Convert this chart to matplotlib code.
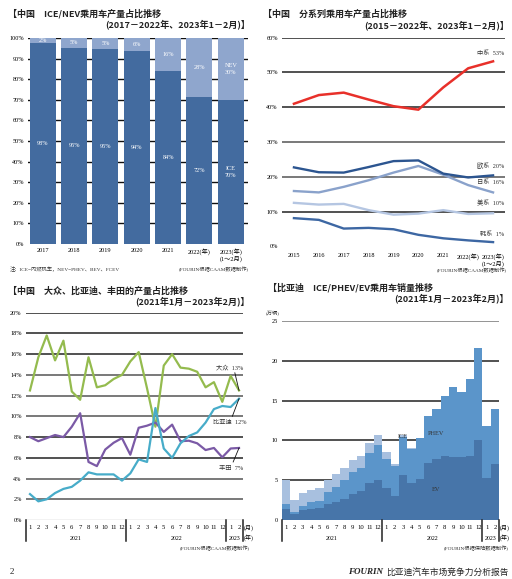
import numpy as np
import matplotlib
matplotlib.use('Agg')
import matplotlib.pyplot as plt

W, H = 512, 579
SANS = ['Noto Sans CJK SC', 'DejaVu Sans']
SERIF = ['Liberation Serif', 'Noto Sans CJK SC']

# ---- panel 1: ICE/NEV share
share_years = ['2017', '2018', '2019', '2020', '2021', '2022(年)', '2023(年)\n(1～2月)']
ice_share = [97.5, 95.3, 94.6, 93.7, 84.0, 71.6, 70.0]
nev_share = [2.5, 4.7, 5.4, 6.3, 16.0, 28.4, 30.0]
ice_lbl = ['98%', '95%', '95%', '94%', '84%', '72%', 'ICE\n70%']
nev_lbl = ['2%', '5%', '5%', '6%', '16%', '28%', 'NEV\n30%']

# ---- panel 2: share by origin
origin_years = ['2015', '2016', '2017', '2018', '2019', '2020', '2021', '2022(年)', '2023(年)\n(1～2月)']
chinese = [41.0, 43.5, 44.2, 42.2, 40.3, 39.3, 45.7, 51.2, 53.2]
european = [22.7, 21.3, 21.2, 22.8, 24.5, 24.7, 20.9, 19.8, 20.4]
japanese = [15.9, 15.5, 17.1, 19.0, 21.2, 23.1, 20.6, 17.6, 15.5]
american = [12.5, 12.0, 12.2, 10.4, 9.1, 9.4, 10.4, 9.3, 9.5]
korean = [8.1, 7.6, 5.1, 5.3, 4.9, 3.3, 2.3, 1.7, 1.2]

# ---- panel 3: VW / BYD / Toyota monthly share
months = [str(m) for m in list(range(1, 13)) * 2 + [1, 2]]
years = ['2021', '2022', '2023']
vw = [12.5, 15.7, 17.8, 15.4, 17.3, 12.4, 11.6, 15.7, 12.8, 13.0, 13.6, 14.0,
      15.3, 16.2, 12.7, 9.0, 14.9, 16.0, 14.7, 14.6, 14.3, 12.8, 13.3, 11.4, 13.9, 12.5]
byd = [2.5, 1.8, 2.0, 2.6, 3.0, 3.2, 3.8, 4.6, 4.4, 4.4, 4.4, 3.8,
       4.5, 5.85, 5.6, 10.8, 6.9, 6.0, 7.4, 8.1, 8.45, 9.4, 10.7, 11.0, 10.9, 11.7]
toyota = [8.0, 7.6, 7.9, 8.2, 8.0, 9.0, 10.3, 5.6, 5.2, 6.8, 7.45, 7.9,
          6.3, 8.9, 9.1, 9.4, 8.5, 9.2, 7.6, 7.65, 7.4, 6.75, 6.95, 6.05, 6.9, 6.95]

# ---- panel 4: BYD sales by powertrain (10k units)
ev = [1.4, 0.75, 1.3, 1.35, 1.47, 2.06, 2.23, 2.6, 3.24, 3.6, 4.7, 5.04,
      4.0, 3.03, 5.7, 4.6, 5.1, 7.1, 7.65, 8.1, 7.9, 7.94, 8.1, 10.0, 5.25, 7.05]
phev = [0.6, 0.2, 0.5, 0.85, 0.97, 1.47, 1.93, 2.44, 2.77, 2.9, 3.7, 4.4,
        3.7, 3.7, 4.7, 4.35, 5.15, 5.95, 6.25, 7.5, 8.8, 8.1, 9.6, 11.6, 6.6, 6.95]
ice = [3.05, 1.55, 1.55, 1.55, 1.6, 1.5, 1.6, 1.43, 1.55, 1.56, 1.3, 1.3,
       0.9, 0.28, 0.3, 0.1, 0.05, 0, 0, 0, 0, 0, 0, 0, 0, 0]


def rect(l, t, r, b):
    return [l / W, 1 - b / H, (r - l) / W, (b - t) / H]


def ftext(fig, x, y, s, **kw):
    kw.setdefault('va', 'center')
    fig.text(x / W, 1 - y / H, s, **kw)


def clean(ax):
    for s in ax.spines.values():
        s.set_visible(False)
    ax.tick_params(length=0, labelsize=4.5, pad=3)
    for t in ax.get_yticklabels() + ax.get_xticklabels():
        t.set_family(SERIF)


def month_axis(ax, hpx):
    n = len(months)
    ax.set_xlim(-0.5, n - 0.5)
    ax.set_xticks([])
    tr = ax.get_xaxis_transform()
    d = -20.7 / hpx
    for xv in [-0.5, 11.5, 23.5, n - 0.5]:
        ax.plot([xv, xv], [0, d], color='#222', lw=1.1, transform=tr, clip_on=False)
    for i, m in enumerate(months):
        ax.text(i, -7.7 / hpx, m, transform=tr, ha='center', va='center',
                fontsize=4.8, family=SERIF)
    for xc, y in zip([5.5, 17.5, 24.5], years):
        ax.text(xc, -18 / hpx, y, transform=tr, ha='center', va='center',
                fontsize=4.3, family=SERIF)
    ax.text(n - 0.45, -7.7 / hpx, '(月)', transform=tr, ha='left', va='center',
            fontsize=4.3, family=SERIF)
    ax.text(n - 0.45, -18 / hpx, '(年)', transform=tr, ha='left', va='center',
            fontsize=4.3, family=SERIF)


fig = plt.figure(figsize=(W / 100, H / 100), dpi=100)

# ================= panel 1
ax1 = fig.add_axes(rect(28, 38, 248, 244))
x = np.arange(len(share_years))
for yv in range(10, 101, 10):
    ax1.axhline(yv, color='#111', lw=1.0, zorder=0)
ax1.bar(x, ice_share, width=0.83, color='#436b9f', zorder=2)
ax1.bar(x, nev_share, bottom=ice_share, width=0.83, color='#8fa6cd', zorder=2)
for i in x:
    ax1.text(i, ice_share[i] / 2, ice_lbl[i], ha='center', va='center', color='white',
             fontsize=4.5, family=SERIF, zorder=3, linespacing=1.6)
    ax1.text(i, ice_share[i] + nev_share[i] / 2, nev_lbl[i], ha='center', va='center',
             color='white', fontsize=4.5, family=SERIF, zorder=3, linespacing=1.6)
ax1.set_xlim(-0.47, 6.55)
ax1.set_ylim(0, 100)
ax1.set_yticks(range(0, 101, 10))
ax1.set_yticklabels([f'{v}%' for v in range(0, 101, 10)])
ax1.set_xticks(x)
ax1.set_xticklabels(share_years)
clean(ax1)

# ================= panel 2
ax2 = fig.add_axes(rect(282, 37.7, 505, 246.3))
x2 = np.arange(len(origin_years))
for yv in range(10, 61, 10):
    ax2.axhline(yv, color='#222' if yv not in (20, 30) else '#555', lw=1.1, zorder=0)
ax2.plot(x2, korean, color='#3d67a3', lw=1.7)
ax2.plot(x2, american, color='#b5c6e2', lw=1.7)
ax2.plot(x2, japanese, color='#8aa2cb', lw=1.7)
ax2.plot(x2, european, color='#2c5590', lw=1.7)
ax2.plot(x2, chinese, color='#e8302a', lw=1.8)
lbls2 = [('中系  53%', 55.5), ('欧系  20%', 23.1), ('日系  16%', 18.3),
         ('美系  10%', 12.25), ('韩系  1%', 3.45)]
for s, yv in lbls2:
    ax2.text(8.45, yv, s, ha='right', va='center', fontsize=4.5, family=SERIF, color='#333')
ax2.set_xlim(-0.48, 8.48)
ax2.set_ylim(0, 60)
ax2.set_yticks(range(0, 61, 10))
ax2.set_yticklabels([f'{v}%' for v in range(0, 61, 10)])
ax2.set_xticks(x2)
ax2.set_xticklabels(origin_years)
clean(ax2)
ax2.tick_params(axis='x', pad=5)

# ================= panel 3
ax3 = fig.add_axes(rect(25.8, 312.7, 243.2, 520))
x3 = np.arange(len(months))
for yv in range(2, 21, 2):
    ax3.axhline(yv, color='#222' if yv in (20, 18, 16, 8, 6) else '#555', lw=1.1, zorder=0)
ax3.axhline(0, color='#222', lw=0.8, zorder=0)
ax3.plot(x3, vw, color='#94bb4e', lw=1.6)
ax3.plot(x3, toyota, color='#7b5aa6', lw=1.6)
ax3.plot(x3, byd, color='#47acc9', lw=1.6)
ax3.plot([24.5, 25], [14.2, vw[-1]], color='#111', lw=0.6)
ax3.plot([24.2, 25], [10.0, byd[-1]], color='#111', lw=0.6)
ax3.plot([24.3, 25], [5.6, toyota[-1]], color='#111', lw=0.6)
ax3.text(23.9, 14.75, '大众  13%', ha='center', va='center', fontsize=4.5, family=SERIF, color='#333')
ax3.text(23.9, 9.45, '比亚迪  12%', ha='center', va='center', fontsize=4.5, family=SERIF, color='#333')
ax3.text(24.1, 4.95, '丰田  7%', ha='center', va='center', fontsize=4.5, family=SERIF, color='#333')
ax3.set_ylim(0, 20)
ax3.set_yticks(range(0, 21, 2))
ax3.set_yticklabels([f'{v}%' for v in range(0, 21, 2)])
clean(ax3)
month_axis(ax3, 207.3)

# ================= panel 4
ax4 = fig.add_axes(rect(281.8, 321, 499.2, 520))
x4 = np.arange(len(months))
for yv in range(5, 26, 5):
    ax4.axhline(yv, color='#222' if yv != 25 else '#777', lw=1.1, zorder=0)
ax4.axhline(0, color='#222', lw=0.8, zorder=0)
ev_a, phev_a = np.array(ev), np.array(phev)
ax4.bar(x4, ev, width=1.0, color='#4775a9', zorder=2)
ax4.bar(x4, phev, bottom=ev_a, width=1.0, color='#5b95ca', zorder=2)
ax4.bar(x4, ice, bottom=ev_a + phev_a, width=1.0, color='#a8c0df', zorder=2)
ax4.text(14, 10.55, 'ICE', ha='center', va='center', fontsize=4.5, family=SERIF, color='#333', zorder=3)
ax4.text(17.9, 10.84, 'PHEV', ha='center', va='center', fontsize=4.5, family=SERIF, color='#333', zorder=3)
ax4.text(17.9, 3.86, 'EV', ha='center', va='center', fontsize=4.5, family=SERIF, color='#333', zorder=3)
ax4.set_ylim(0, 25)
ax4.set_yticks(range(0, 26, 5))
clean(ax4)
month_axis(ax4, 199)

# ================= titles and notes
tkw = dict(family=SANS, fontsize=6.5, fontweight='bold', color='#222')
ftext(fig, 8, 14, '【中国　ICE/NEV乘用车产量占比推移', ha='left', **tkw)
ftext(fig, 250, 24.5, '(2017－2022年、2023年1－2月)】', ha='right', **tkw)
ftext(fig, 263, 14, '【中国　分系列乘用车产量占比推移', ha='left', **tkw)
ftext(fig, 509, 25, '(2015－2022年、2023年1－2月)】', ha='right', **tkw)
ftext(fig, 8, 291, '【中国　大众、比亚迪、丰田的产量占比推移', ha='left', **tkw)
ftext(fig, 250, 301, '(2021年1月－2023年2月)】', ha='right', **tkw)
ftext(fig, 268, 288, '【比亚迪　ICE/PHEV/EV乘用车销量推移', ha='left', **tkw)
ftext(fig, 509, 298.5, '(2021年1月－2023年2月)】', ha='right', **tkw)

skw = dict(family=SERIF, fontsize=3.8, color='#333')
ftext(fig, 10, 269, '注：ICE=内燃机车，NEV=PHEV、BEV、FCEV', ha='left', **skw)
ftext(fig, 249, 269, '(FOURIN根据CAAM数据制作)', ha='right', **skw)
ftext(fig, 507, 270, '(FOURIN根据CAAM数据制作)', ha='right', **skw)
ftext(fig, 250, 548, '(FOURIN根据CAAM数据制作)', ha='right', **skw)
ftext(fig, 509, 548, '(FOURIN根据保险数据制作)', ha='right', **skw)
ftext(fig, 273, 313, '(万辆)', ha='center', **skw)

ftext(fig, 10, 572, '2', ha='left', family=SERIF, fontsize=6.5, color='#222')
ftext(fig, 509, 572.5, '比亚迪汽车市场竞争力分析报告', ha='right', family=SANS, fontsize=6.3, color='#222')
ftext(fig, 383, 572.5, 'FOURIN', ha='right', family=SERIF, fontsize=6.5, style='italic',
      fontweight='bold', color='#222')

fig.savefig('out.png', dpi=100)
